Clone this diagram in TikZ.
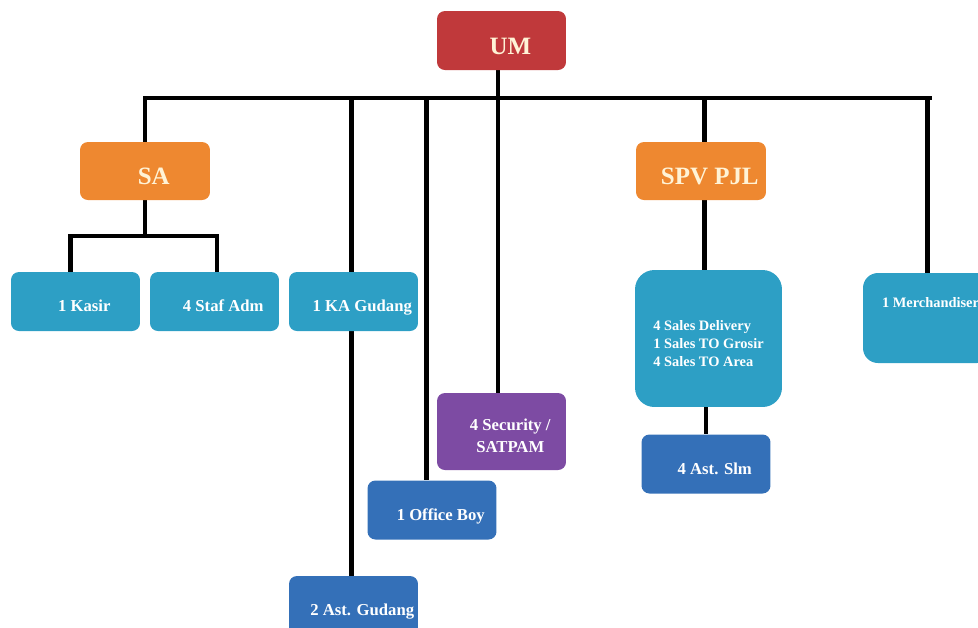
\documentclass[tikz,border=0pt]{standalone}
\usepackage{fontspec}
\setmainfont{Liberation Serif}
\usetikzlibrary{backgrounds}
\definecolor{umred}{RGB}{192,57,59}
\definecolor{saorange}{RGB}{238,136,48}
\definecolor{staffteal}{RGB}{45,159,197}
\definecolor{asstblue}{RGB}{52,112,184}
\definecolor{secpurple}{RGB}{125,75,163}
\definecolor{cream}{RGB}{255,243,214}
\tikzset{
base/.style={rounded corners=4.5pt, inner sep=1pt, text=white, font=\bfseries\fontsize{9.5}{12.5}\selectfont, minimum width=2.58cm, minimum height=1.18cm},
box/.style={base, text height=11.8pt, text depth=0pt, execute at begin node={\hspace*{10pt}}},
head/.style={box, text=cream, font=\bfseries\fontsize{14.2}{16}\selectfont, text height=15.6pt},
bar/.style={line width=2.8pt, black}
}

\begin{document}
\begin{tikzpicture}[x=0.02cm, y=-0.02cm]
\useasboundingbox (0,0) rectangle (978,627);
\node[head, fill=umred] (um) at (501.5,40.5) {UM};
\node[head, fill=saorange, minimum width=2.6cm, minimum height=1.16cm] (sa) at (145,171) {SA};
\node[head, fill=saorange, minimum width=2.6cm, minimum height=1.16cm] (spv) at (701,171) {SPV PJL};
\node[box, fill=staffteal] (kasir) at (75.5,301.5) {1 Kasir};
\node[box, fill=staffteal] (staf) at (214.5,301.5) {4 Staf Adm};
\node[box, fill=staffteal] (kagudang) at (353.5,301.5) {1 KA Gudang};
\node[box, fill=asstblue] (astgudang) at (353.5,605.5) {2 Ast. Gudang};
\node[box, fill=asstblue] (officeboy) at (432,510) {1 Office Boy};
\node[base, fill=secpurple, align=center, minimum height=1.54cm] (security) at (501.5,431.5) {\rule{0pt}{12pt}\hspace*{10pt}4 Security /\\\hspace*{10pt}SATPAM};
\node[base, fill=staffteal, rounded corners=11pt, align=left, font=\bfseries\fontsize{8.2}{10.2}\selectfont, minimum width=2.94cm, minimum height=2.74cm] (sales) at (708.5,338.5) {\rule{0pt}{11.8pt}4 Sales Delivery\\1 Sales TO Grosir\\4 Sales TO Area};
\node[box, fill=asstblue] (astslm) at (706,464) {4 Ast. Slm};
\node[base, fill=staffteal, rounded corners=8.5pt, font=\bfseries\fontsize{8.2}{10}\selectfont, minimum height=1.8cm, text height=5.4pt, text depth=17pt, execute at begin node={\hspace*{3.4pt}}] (merch) at (927.5,318) {1 Merchandiser};
\coordinate (bus) at (0,98);
\coordinate (busend) at (932,98);
\coordinate (fork) at (145,236);
\begin{scope}[on background layer]
\draw[bar] (sa.north) |- (busend);
\draw[bar] (merch.north |- bus) -- (merch.north);
\draw[bar] ([xshift=-2pt]um.south) -- ([xshift=-2pt]security.north);
\draw[bar] ([xshift=-1.4pt]kagudang.north |- bus) -- ([xshift=-1.4pt]astgudang.north);
\draw[bar] ([xshift=-3.3pt]officeboy.north |- bus) -- ([xshift=-3.3pt]officeboy.north);
\draw[bar] ([xshift=2pt]spv.north |- bus) -- ([xshift=2pt]spv.north);
\draw[bar] ([xshift=2pt]spv.south) -- ([xshift=2pt]spv.south |- sales.north);
\draw[bar] (sales.south -| astslm.north) -- (astslm.north);
\draw[bar] (sa.south) -- (fork);
\draw[bar] ([xshift=-3pt]kasir.north) |- (fork) -| ([xshift=1.4pt]staf.north);
\end{scope}
\end{tikzpicture}
\end{document}
